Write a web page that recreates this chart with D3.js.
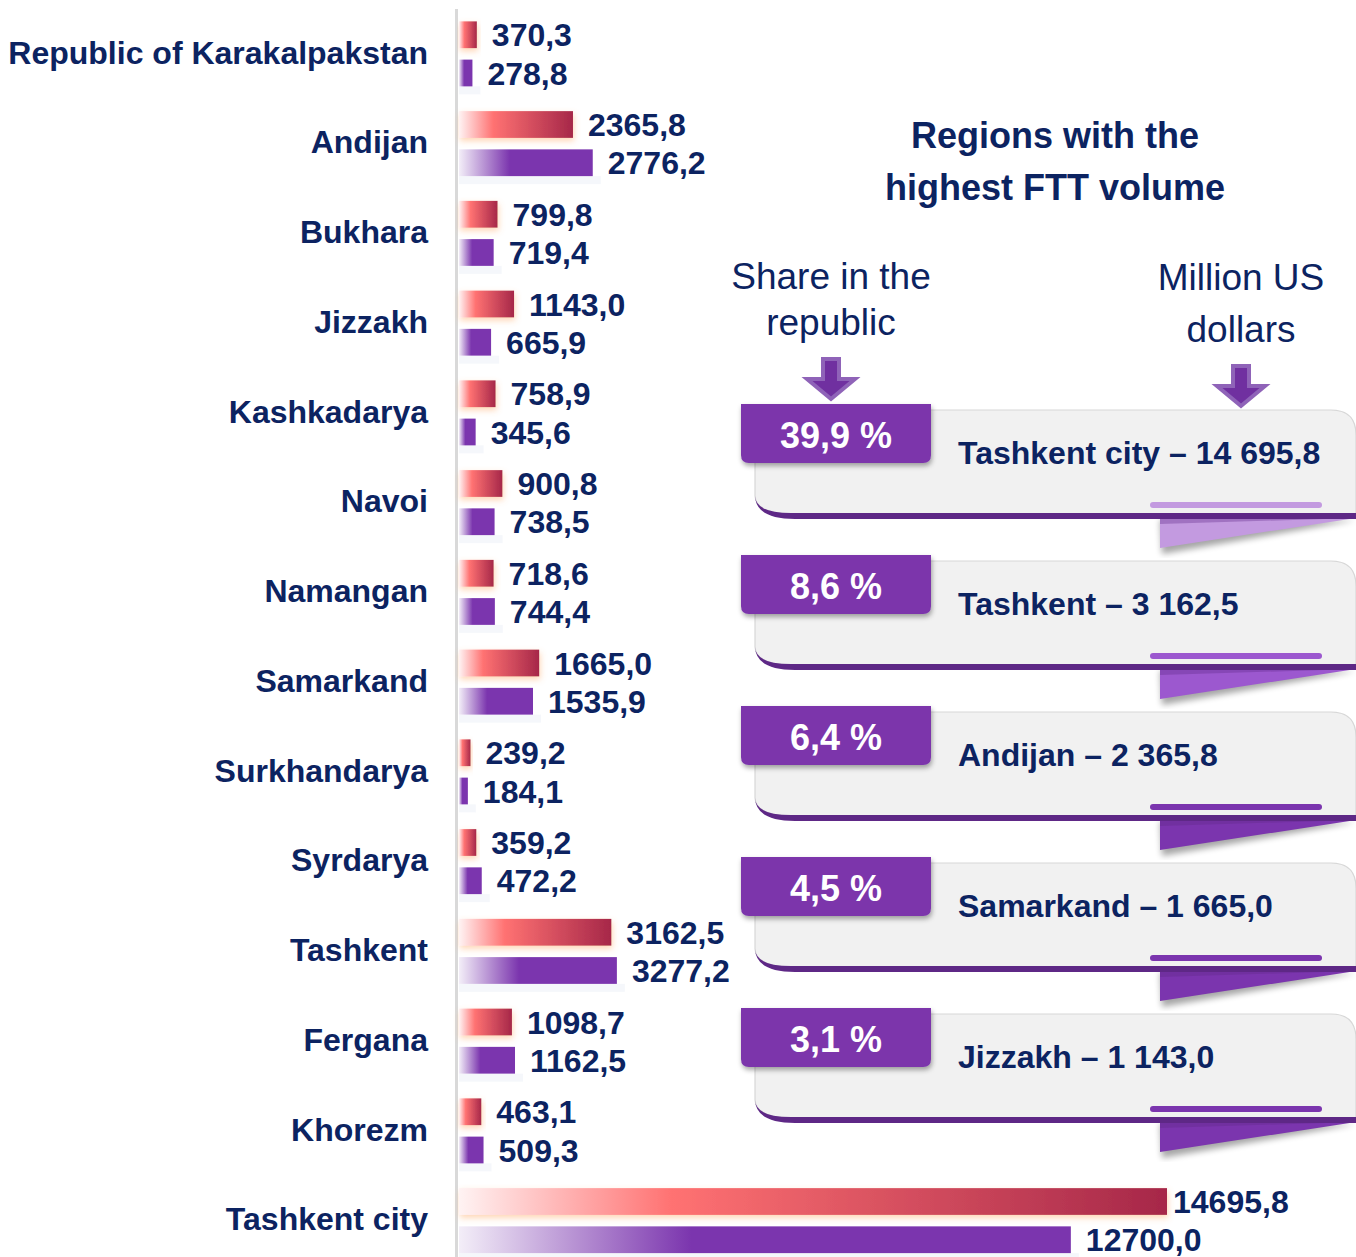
<!DOCTYPE html>
<html>
<head>
<meta charset="utf-8">
<script src="https://cdn.jsdelivr.net/npm/d3@7"></script>
<style>
  body { margin: 0; background: #fff; }
  svg { display: block; font-family: "Liberation Sans", Arial, sans-serif; }
</style>
</head>
<body>
<div id="chart"></div>
<script>
// left chart: foreign trade turnover by region
var regions = ["Republic of Karakalpakstan", "Andijan", "Bukhara", "Jizzakh", "Kashkadarya", "Navoi",
  "Namangan", "Samarkand", "Surkhandarya", "Syrdarya", "Tashkent", "Fergana", "Khorezm", "Tashkent city"];
var redValues = [370.3, 2365.8, 799.8, 1143.0, 758.9, 900.8, 718.6, 1665.0, 239.2, 359.2, 3162.5, 1098.7, 463.1, 14695.8];
var purpleValues = [278.8, 2776.2, 719.4, 665.9, 345.6, 738.5, 744.4, 1535.9, 184.1, 472.2, 3277.2, 1162.5, 509.3, 12700.0];
var seriesKeys = ["red", "purple"];

// right panel: top regions
var topRegions = ["Tashkent city", "Tashkent", "Andijan", "Samarkand", "Jizzakh"];
var topShares = [39.9, 8.6, 6.4, 4.5, 3.1];
var topVolumes = [14695.8, 3162.5, 2365.8, 1665.0, 1143.0];

var titleLines = ["Regions with the", "highest FTT volume"];
var shareLines = ["Share in the", "republic"];
var unitLines = ["Million US", "dollars"];

var width = 1356, height = 1257;
var navy = "#0c2361", purple = "#7b35ab", darkPurple = "#5e2886";

var locale = d3.formatLocale({decimal: ",", thousands: " ", grouping: [3], currency: ["", ""]});
var fmtBar = locale.format(".1f");
var fmtBox = locale.format(",.1f");

var svg = d3.select("#chart").append("svg")
    .attr("width", width)
    .attr("height", height);

var defs = svg.append("defs");

var gRed = defs.append("linearGradient").attr("id", "gradRed");
gRed.append("stop").attr("offset", "0%").attr("stop-color", "#fff3f3");
gRed.append("stop").attr("offset", "30%").attr("stop-color", "#ff7272");
gRed.append("stop").attr("offset", "100%").attr("stop-color", "#a62749");

var gPur = defs.append("linearGradient").attr("id", "gradPurple");
gPur.append("stop").attr("offset", "0%").attr("stop-color", "#f3eef8");
gPur.append("stop").attr("offset", "38%").attr("stop-color", "#7b35ae");
gPur.append("stop").attr("offset", "100%").attr("stop-color", "#7b35ae");

var glow = defs.append("filter").attr("id", "glow").attr("x", "-10%").attr("y", "-50%").attr("width", "130%").attr("height", "200%");
glow.append("feDropShadow").attr("dx", 1).attr("dy", 3).attr("stdDeviation", 3)
    .attr("flood-color", "#ffa35c").attr("flood-opacity", 0.45);

var shadow = defs.append("filter").attr("id", "shadow").attr("x", "-10%").attr("y", "-20%").attr("width", "130%").attr("height", "160%");
shadow.append("feDropShadow").attr("dx", 1).attr("dy", 3).attr("stdDeviation", 2.5)
    .attr("flood-color", "#000").attr("flood-opacity", 0.35);

var blur = defs.append("filter").attr("id", "blur");
blur.append("feGaussianBlur").attr("stdDeviation", 3);

// scales
var y = d3.scaleBand().domain(regions).range([8.5, 1265]);
var yInner = d3.scaleBand().domain(seriesKeys).range([-32, 33]).paddingInner(0.3);
var x = d3.scaleLinear().domain([0, d3.max(redValues)]).range([459, 1167]);

var rows = regions.map(function(r, i) {
  return {region: r, values: [{key: "red", v: redValues[i]}, {key: "purple", v: purpleValues[i]}]};
});

// category axis
var yAxis = d3.axisLeft(y).tickSize(0).tickPadding(28);
var axisG = svg.append("g")
    .attr("transform", "translate(456,0)")
    .style("color", navy)
    .call(yAxis);
axisG.select(".domain").attr("stroke", "#d9d9d9").attr("stroke-width", 3);
axisG.selectAll("text")
    .attr("font-family", "Liberation Sans, Arial, sans-serif")
    .attr("font-size", 32)
    .attr("font-weight", "bold")
    .attr("fill", navy);

var row = svg.selectAll("g.row").data(rows).enter().append("g")
    .attr("class", "row")
    .attr("transform", function(d) { return "translate(0," + (y(d.region) + y.bandwidth() / 2) + ")"; });

// faint reflection under purple bars
row.append("rect")
    .attr("x", x(0))
    .attr("y", yInner("purple") + yInner.bandwidth())
    .attr("width", function(d) { return x(d.values[1].v) - x(0) + 8; })
    .attr("height", 8)
    .attr("fill", "#eef2f8")
    .attr("opacity", 0.6);

row.selectAll("rect.bar").data(function(d) { return d.values; }).enter().append("rect")
    .attr("class", "bar")
    .attr("x", x(0))
    .attr("y", function(d) { return yInner(d.key); })
    .attr("width", function(d) { return x(d.v) - x(0); })
    .attr("height", yInner.bandwidth())
    .attr("fill", function(d) { return d.key === "red" ? "url(#gradRed)" : "url(#gradPurple)"; })
    .attr("filter", function(d) { return d.key === "red" ? "url(#glow)" : null; });

row.selectAll("text.val").data(function(d) { return d.values; }).enter().append("text")
    .attr("class", "val")
    .attr("x", function(d) { return x(d.v) + (x(d.v) > 1150 ? 6 : 15); })
    .attr("y", function(d) { return yInner(d.key) + yInner.bandwidth() / 2; })
    .attr("dy", "0.36em")
    .attr("font-size", 32)
    .attr("font-weight", "bold")
    .attr("fill", navy)
    .text(function(d) { return fmtBar(d.v); });

// right panel headings
svg.append("g").selectAll("text").data(titleLines).enter().append("text")
    .attr("x", 1055)
    .attr("y", function(d, i) { return 135 + i * 52; })
    .attr("dy", "0.36em")
    .attr("text-anchor", "middle")
    .attr("font-size", 36)
    .attr("font-weight", "bold")
    .attr("fill", navy)
    .text(function(d) { return d; });

svg.append("g").selectAll("text").data(shareLines).enter().append("text")
    .attr("x", 831)
    .attr("y", function(d, i) { return 276 + i * 46; })
    .attr("dy", "0.36em")
    .attr("text-anchor", "middle")
    .attr("font-size", 37)
    .attr("fill", navy)
    .text(function(d) { return d; });

svg.append("g").selectAll("text").data(unitLines).enter().append("text")
    .attr("x", 1241)
    .attr("y", function(d, i) { return 277 + i * 52; })
    .attr("dy", "0.36em")
    .attr("text-anchor", "middle")
    .attr("font-size", 37)
    .attr("fill", navy)
    .text(function(d) { return d; });

function arrow(cx, top) {
  var p = d3.path();
  p.moveTo(cx - 8, top);
  p.lineTo(cx + 8, top);
  p.lineTo(cx + 8, top + 20);
  p.lineTo(cx + 24, top + 20);
  p.lineTo(cx, top + 40);
  p.lineTo(cx - 24, top + 20);
  p.lineTo(cx - 8, top + 20);
  p.closePath();
  svg.append("path").attr("d", p.toString())
      .attr("fill", "#7030a0")
      .attr("stroke", "#8f63b8")
      .attr("stroke-width", 4)
      .attr("stroke-linejoin", "miter");
}
arrow(831, 359);
arrow(1241, 366);

// callout boxes
var accent = ["#c39ae0", "#9c58cf", "#7b35ae", "#7b35ae", "#7b35ae"];
var boxes = topRegions.map(function(r, i) {
  return {region: r, share: topShares[i], volume: topVolumes[i], color: accent[i]};
});
var boxY = d3.scalePoint().domain(topRegions).range([404, 1008]);

var box = svg.selectAll("g.box").data(boxes).enter().append("g")
    .attr("class", "box")
    .attr("transform", function(d) { return "translate(0," + boxY(d.region) + ")"; });

// triangle shadow + triangle
box.append("path")
    .attr("d", "M1160,116 L1356,116 L1162,150 Z")
    .attr("fill", "#000").attr("opacity", 0.35).attr("filter", "url(#blur)");
box.append("path")
    .attr("d", "M1160,114 L1356,114 L1160,144 Z")
    .attr("fill", function(d) { return d.color; });
box.append("path")
    .attr("d", "M1160,114 L1356,114 L1160,120 Z")
    .attr("fill", darkPurple).attr("opacity", 0.35);

// gray panel
box.append("path")
    .attr("d", "M755,6 H1331 Q1356,6 1356,31 V110 H795 Q756,110 755,92 Z")
    .attr("fill", "#f1f1f1")
    .attr("stroke", "#d7d7d7")
    .attr("stroke-width", 1.2);
// dark bottom curl
box.append("path")
    .attr("d", "M755,92 Q756,110 795,109 H1356 V115 H795 Q756,115 755,92 Z")
    .attr("fill", darkPurple);
// accent strip
box.append("rect")
    .attr("x", 1150).attr("y", 98)
    .attr("width", 172).attr("height", 6).attr("rx", 3)
    .attr("fill", function(d) { return d.color; });

// tag
box.append("path")
    .attr("d", "M741,0 H931 V51 Q931,59 923,59 H749 Q741,59 741,51 Z")
    .attr("fill", purple)
    .attr("filter", "url(#shadow)");
box.append("text")
    .attr("x", 836).attr("y", 31)
    .attr("dy", "0.36em")
    .attr("text-anchor", "middle")
    .attr("font-size", 36)
    .attr("font-weight", "bold")
    .attr("fill", "#fff")
    .text(function(d) { return fmtBar(d.share) + " %"; });

box.append("text")
    .attr("x", 958).attr("y", 48)
    .attr("dy", "0.36em")
    .attr("font-size", 32)
    .attr("font-weight", "bold")
    .attr("fill", navy)
    .text(function(d) { return d.region + " \u2013 " + fmtBox(d.volume); });
</script>
</body>
</html>
